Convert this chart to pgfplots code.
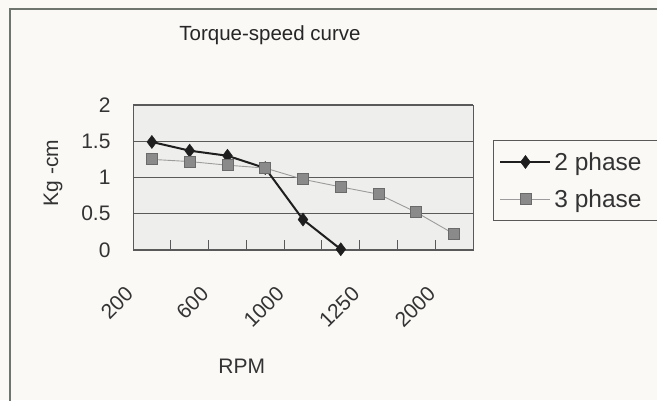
\documentclass[border=0pt]{standalone}
\usepackage{pgfplots}
\pgfplotsset{compat=1.18}
\usepackage{fontspec}
\setmainfont{Liberation Sans}
\definecolor{bgpage}{HTML}{FAF9F6}
\definecolor{bgplot}{HTML}{EEEEEC}
\definecolor{gridc}{HTML}{5A5A5A}
\definecolor{darkser}{HTML}{1E1E1E}
\definecolor{grayser}{HTML}{8A8A8A}
\definecolor{grayedge}{HTML}{6A6A6A}
\definecolor{grayline}{HTML}{9C9C9C}
\definecolor{framec}{HTML}{6E746E}
\begin{document}
\begin{tikzpicture}[x=1pt,y=1pt]
\path[use as bounding box, fill=bgpage] (0,0) rectangle (657,400);
\draw[framec, line width=1.5pt] (10,-5) -- (10,391) -- (665,391);
\begin{axis}[
  at={(133pt,150pt)}, anchor=south west,
  scale only axis, width=340pt, height=145pt,
  xmin=0.5, xmax=9.5, ymin=0, ymax=2,
  axis background/.style={fill=bgplot},
  axis line style={gray!70!black, line width=0.8pt},
  xtick={1,3,5,7,9},
  xticklabels={200,600,1000,1250,2000},
  major x tick style={draw=none},
  minor xtick={1.5,2.5,...,8.5},
  minor tick length=10pt,
  minor x tick style={gray!70!black, line width=0.8pt},
  tick align=inside,
  ytick={0,0.5,1,1.5,2},
  yticklabels={0,0.5,1,1.5,2},
  major y tick style={draw=none},
  ymajorgrids, grid style={gridc, line width=1.3pt},
  xtick pos=bottom, ytick pos=left,
  tick label style={font=\fontsize{21}{24}\selectfont, text=black!80},
  yticklabel style={anchor=east, xshift=-19pt},
  xticklabel style={rotate=45, anchor=north east, inner sep=0pt, xshift=-44.5pt, yshift=-5pt},
  xlabel={RPM},
  xlabel style={at={(axis description cs:0.32,-0.8)}, anchor=center, font=\fontsize{21}{24}\selectfont, text=black!80},
  ylabel={Kg -cm},
  ylabel style={at={(axis description cs:-0.235,0.53)}, anchor=center, font=\fontsize{21}{24}\selectfont, text=black!80},
  title={Torque-speed curve},
  title style={at={(axis description cs:0.403,1.44)}, anchor=center, font=\fontsize{20.5}{24}\selectfont, text=black!85},
  legend style={at={(axis description cs:1.059,0.759)}, anchor=north west,
    draw=gray!70!black, fill=bgpage, line width=0.8pt,
    font=\fontsize{24.5}{28}\selectfont, text=black!80,
    inner xsep=6pt, inner ysep=10pt, row sep=14pt,
    nodes={inner xsep=3pt, inner ysep=2pt}},
  legend cell align=left,
  legend image code/.code={
    \draw[#1, mark repeat=2, mark phase=2] plot coordinates {(0pt,0pt) (25pt,0pt) (50pt,0pt)};
  },
  clip=false,
]
\addplot[darkser, line width=2pt, mark=diamond*, mark size=6.5pt, mark options={fill=darkser, draw=darkser, line width=0.5pt}]
  coordinates {(1,1.49) (2,1.37) (3,1.30) (4,1.13) (5,0.42) (6,0.01)};
\addlegendentry{2 phase\hspace*{20pt}}
\addplot[grayline, line width=0.9pt, mark=square*, mark size=5.5pt, mark options={fill=grayser, draw=grayedge, line width=0.8pt}]
  coordinates {(1,1.25) (2,1.22) (3,1.17) (4,1.13) (5,0.975) (6,0.87) (7,0.77) (8,0.52) (9,0.22)};
\addlegendentry{3 phase\hspace*{20pt}}
\end{axis}
\end{tikzpicture}
\end{document}
